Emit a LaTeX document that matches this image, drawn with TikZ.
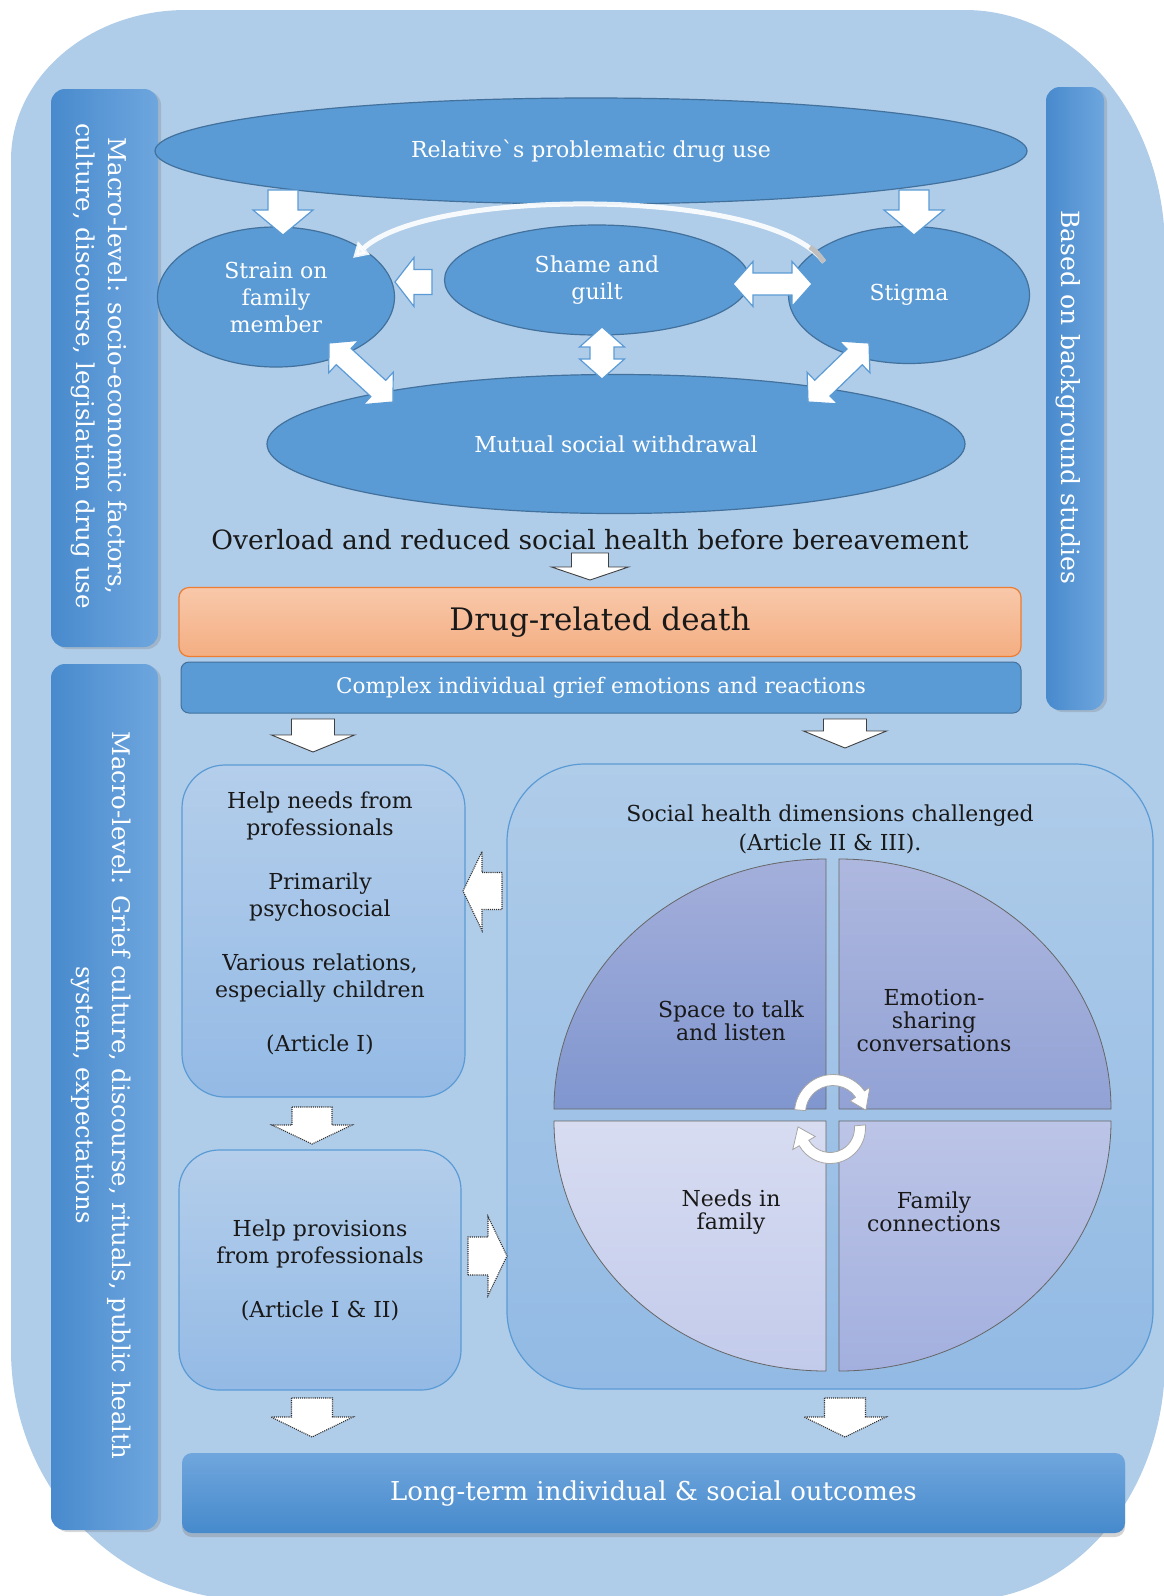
\documentclass[tikz,border=0pt]{standalone}
\usepackage{fontspec}
\setmainfont{DejaVu Serif}
\usetikzlibrary{shapes.geometric,calc,shadows,arrows.meta}

\definecolor{bgblue}{RGB}{175,204,233}
\definecolor{ellblue}{RGB}{91,155,213}
\definecolor{ellline}{RGB}{65,113,156}
\definecolor{bardark}{RGB}{72,138,205}
\definecolor{barlight}{RGB}{110,166,222}
\definecolor{deathtop}{RGB}{248,200,170}
\definecolor{deathbot}{RGB}{244,174,130}
\definecolor{deathline}{RGB}{237,125,49}
\definecolor{boxtop}{RGB}{180,206,235}
\definecolor{boxbot}{RGB}{148,186,229}
\definecolor{inkdark}{RGB}{25,25,25}

\newcommand\setfs[2]{\fontsize{#1}{#2}\selectfont}

% straight block arrow: style, tail x, tail y, tip x, tip y, shaft width, head width, head length
\newcommand\sarrow[8]{%
  \pgfmathsetmacro\arrang{atan2((#5)-(#3),(#4)-(#2))}%
  \pgfmathsetmacro\arrlen{veclen((#4)-(#2),(#5)-(#3))}%
  \path[#1,shift={(#2,#3)},rotate=\arrang]
    (0,{-(#6)/2}) -- ({\arrlen-(#8)},{-(#6)/2}) -- ({\arrlen-(#8)},{-(#7)/2}) -- (\arrlen,0)
    -- ({\arrlen-(#8)},{(#7)/2}) -- ({\arrlen-(#8)},{(#6)/2}) -- (0,{(#6)/2}) -- cycle;}

% two-headed block arrow, same arguments
\newcommand\darrow[8]{%
  \pgfmathsetmacro\arrang{atan2((#5)-(#3),(#4)-(#2))}%
  \pgfmathsetmacro\arrlen{veclen((#4)-(#2),(#5)-(#3))}%
  \path[#1,shift={(#2,#3)},rotate=\arrang]
    (0,0) -- (#8,{(#7)/2}) -- (#8,{(#6)/2}) -- ({\arrlen-(#8)},{(#6)/2}) -- ({\arrlen-(#8)},{(#7)/2})
    -- (\arrlen,0) -- ({\arrlen-(#8)},{-(#7)/2}) -- ({\arrlen-(#8)},{-(#6)/2}) -- (#8,{-(#6)/2})
    -- (#8,{-(#7)/2}) -- cycle;}

\begin{document}
\begin{tikzpicture}[x=1pt,y=1pt,
  ellip/.style={ellipse, draw=ellline, line width=1.2pt, fill=ellblue, text=white,
    align=center, inner sep=0pt, font=\setfs{22}{27}},
  vbar/.style={draw=none, rounded corners=14pt, shading=axis, left color=bardark,
    right color=barlight, drop shadow={shadow xshift=3pt, shadow yshift=-2pt, opacity=.3}},
  bartext/.style={rotate=-90, text=white, align=center},
  softbox/.style={draw=ellblue, line width=1.2pt, shading=axis, top color=boxtop,
    bottom color=boxbot, inner sep=0pt},
  boxtext/.style={text=inkdark, align=center, font=\setfs{22}{27}, inner sep=0pt},
  quad/.style={draw=black!60, line width=0.8pt, shading=axis},
  quadtext/.style={text=inkdark, align=center, font=\setfs{22}{23}, inner sep=0pt},
  solidarr/.style={fill=white, draw=ellblue, line width=1.2pt},
  outarr/.style={fill=white, draw=black!75, line width=0.9pt},
  dotarr/.style={fill=white, draw=black!80, line width=1.1pt, densely dotted},
  ringarr/.style={fill=white, draw=black!35, line width=0.8pt},
]
\useasboundingbox (0,0) rectangle (1164,-1596);

% rounded backdrop
\begin{scope}
  \clip (0,0) rectangle (1164,-1596);
  \fill[bgblue] (186,-10) -- (965,-10)
    arc[start angle=90,end angle=0,x radius=200,y radius=240] -- (1165,-1360)
    arc[start angle=0,end angle=-90,x radius=200,y radius=240] -- (251,-1600)
    arc[start angle=-90,end angle=-180,x radius=240,y radius=250] -- (11,-160)
    arc[start angle=180,end angle=90,x radius=175,y radius=150] -- cycle;
\end{scope}

% side bars
\node[vbar, minimum width=107pt, minimum height=558pt] (macroA) at (104.5,-368) {};
\node[bartext, font=\setfs{24.5}{32}] (macroAtext) at (99,-366)
  {Macro-level: socio-economic factors,\\culture, discourse, legislation drug use};
\node[vbar, minimum width=107pt, minimum height=866pt] (macroB) at (104.5,-1097) {};
\node[bartext, font=\setfs{24.3}{36}] (macroBtext) at (101.5,-1095)
  {Macro-level: Grief culture, discourse, rituals, public health\\system, expectations};
\node[vbar, minimum width=58pt, minimum height=623pt] (based) at (1075,-398.5) {};
\node[bartext, font=\setfs{25}{30}] (basedtext) at (1068,-397) {Based on background studies};

% upper cluster of ellipses
\node[ellip, minimum width=872pt, minimum height=106pt] (relative) at (591,-151)
  {Relative\textasciigrave s problematic drug use};
\node[ellip, minimum width=237pt, minimum height=140pt] (strain) at (276,-297)
  {Strain on\\family\\member};
\node[ellip, minimum width=305pt, minimum height=110pt] (shame) at (597,-280)
  {Shame and\\guilt};
\node[ellip, minimum width=241pt, minimum height=137pt] (stigma) at (909,-295) {Stigma};
\node[ellip, minimum width=698pt, minimum height=139pt] (mutual) at (616,-444)
  {Mutual social withdrawal};

% arrows between the ellipses
\sarrow{solidarr}{283}{-190}{283}{-235}{30}{60}{25}
\sarrow{solidarr}{914}{-190}{914}{-235}{30}{60}{25}
\sarrow{solidarr}{432}{-282}{395}{-282}{25}{49}{19}
\darrow{solidarr}{733}{-284}{812}{-284}{22}{45}{20}
\darrow{solidarr}{602}{-327}{602}{-379}{24}{45}{20}
\darrow{solidarr}{329}{-343}{393}{-402}{22}{44}{20}
\darrow{solidarr}{869}{-343}{808}{-402}{22}{44}{20}

% curved link from stigma back to strain
\coordinate (cstart) at (824,-262);
\coordinate (cend) at (353,-258);
\draw[white, opacity=.9, line width=5pt, -{Triangle[length=15pt,width=17pt]}]
  (cstart) .. controls (770,-187) and (430,-187) .. (cend);
\draw[black!25, line width=5pt]
  (cstart) .. controls (820,-256) and (816,-251) .. (810,-247);

% summary line and death
\node[text=inkdark, font=\setfs{26.5}{30}, inner sep=0pt] (overload) at (590,-540)
  {Overload and reduced social health before bereavement};
\sarrow{outarr}{590}{-553}{590}{-580}{37}{77}{13}

\node[draw=deathline, line width=1.2pt, rounded corners=10pt, shading=axis,
  top color=deathtop, bottom color=deathbot, minimum width=842pt, minimum height=69pt,
  text=inkdark, font=\setfs{31}{34}] (death) at (600,-622) {Drug-related death};
\node[draw=ellline, line width=1pt, rounded corners=8pt, fill=ellblue,
  minimum width=840pt, minimum height=51pt, text=white, font=\setfs{21.5}{26}]
  (grief) at (601,-687.5) {Complex individual grief emotions and reactions};

\sarrow{outarr}{313}{-719}{313}{-752}{43}{83}{17}
\sarrow{outarr}{845}{-719}{845}{-748}{43}{83}{17}

% professional help boxes
\node[softbox, rounded corners=43pt, minimum width=283pt, minimum height=332pt]
  (needs) at (323.5,-931) {};
\node[boxtext, anchor=north] (needstext) at (320,-792)
  {Help needs from\\professionals\\[27pt]Primarily\\psychosocial\\[27pt]Various relations,\\especially children\\[27pt](Article I)};
\node[softbox, rounded corners=40pt, minimum width=282pt, minimum height=240pt]
  (provisions) at (320,-1270) {};
\node[boxtext, anchor=north] (provtext) at (320,-1220)
  {Help provisions\\from professionals\\[27pt](Article I \& II)};

\sarrow{dotarr}{312}{-1107}{312}{-1144}{40}{80}{19}

% social health panel
\node[softbox, rounded corners=78pt, minimum width=646pt, minimum height=625pt,
  top color=bgblue, bottom color={rgb,255:red,146;green,186;blue,228}]
  (panel) at (830,-1076.5) {};
\node[boxtext, font=\setfs{22}{29}] (paneltitle) at (830,-829)
  {Social health dimensions challenged\\(Article II \& III).};

\sarrow{dotarr}{502}{-891}{463}{-891}{37}{79}{19}
\sarrow{dotarr}{468}{-1256}{507}{-1256}{38}{79}{19}

% four quadrants
\path[quad, top color={rgb,255:red,164;green,175;blue,219}, bottom color={rgb,255:red,128;green,150;blue,207}]
  (826,-1109) -- (826,-859) arc[start angle=90,end angle=180,x radius=272,y radius=250] -- cycle;
\path[quad, top color={rgb,255:red,174;green,184;blue,223}, bottom color={rgb,255:red,146;green,162;blue,213}]
  (839,-1109) -- (1111,-1109) arc[start angle=0,end angle=90,x radius=272,y radius=250] -- cycle;
\path[quad, top color={rgb,255:red,215;green,220;blue,241}, bottom color={rgb,255:red,195;green,203;blue,235}]
  (826,-1121) -- (554,-1121) arc[start angle=180,end angle=270,x radius=272,y radius=250] -- cycle;
\path[quad, top color={rgb,255:red,188;green,197;blue,231}, bottom color={rgb,255:red,163;green,175;blue,222}]
  (839,-1121) -- (839,-1371) arc[start angle=270,end angle=360,x radius=272,y radius=250] -- cycle;

\node[quadtext] (talk) at (731,-1021) {Space to talk\\and listen};
\node[quadtext] (sharing) at (934,-1021) {Emotion-\\sharing\\conversations};
\node[quadtext] (famneeds) at (731,-1212) {Needs in\\family};
\node[quadtext] (famconn) at (934,-1212) {Family\\connections};

% cycle arrows in the middle of the quadrants
\begin{scope}[shift={(833,-1113)}]
  \path[ringarr] (175:38.5) arc[start angle=175,end angle=35,radius=38.5] -- (35:45)
    -- (5:33) -- (35:21) -- (35:27.5) arc[start angle=35,end angle=175,radius=27.5] -- cycle;
\end{scope}
\begin{scope}[shift={(830,-1128)}]
  \path[ringarr] (5:35.5) arc[start angle=5,end angle=-150,radius=35.5] -- (-150:43)
    -- (-182:32) -- (-150:17) -- (-150:24.5) arc[start angle=-150,end angle=5,radius=24.5] -- cycle;
\end{scope}

% outcome
\sarrow{dotarr}{312}{-1398}{312}{-1437}{41}{82}{20}
\sarrow{dotarr}{845}{-1398}{845}{-1437}{41}{82}{20}
\node[draw=none, rounded corners=10pt, shading=axis,
  top color={rgb,255:red,112;green,166;blue,221}, bottom color={rgb,255:red,70;green,138;blue,204},
  minimum width=943pt, minimum height=80pt, text=white, font=\setfs{26}{30},
  drop shadow={shadow xshift=0pt, shadow yshift=-4pt, opacity=.35}]
  (outcomes) at (653.5,-1493) {Long-term individual \& social outcomes};
\end{tikzpicture}
\end{document}
